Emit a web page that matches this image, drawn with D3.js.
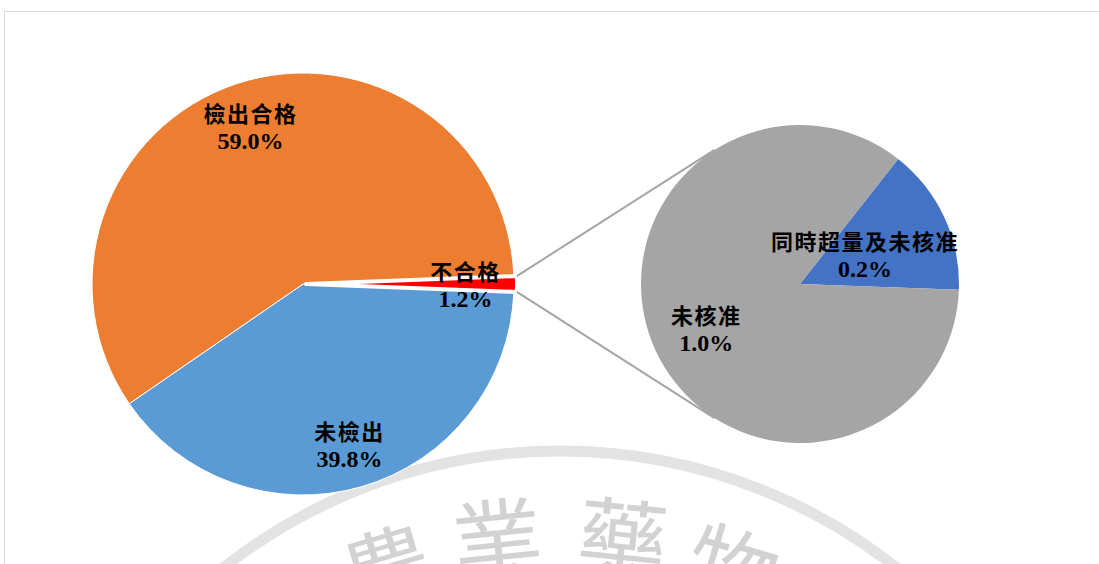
<!DOCTYPE html>
<html>
    <head>
        <meta charset="UTF-8"/>
        <style>
            body { margin: 0; background: #fff; }
        </style>
    </head>
    <body>
        <script src="https://d3js.org/d3.v7.min.js" type="text/javascript"></script>
        <script>
            // main pie: share of samples
            const mainCats = ["不合格", "未檢出", "檢出合格"];
            const mainVals = [1.2, 39.8, 59.0];
            const mainColors = ["#FF0000", "#5B9BD5", "#ED7D31"];
            // second pie: breakdown of 不合格
            const subCats = ["同時超量及未核准", "未核准"];
            const subVals = [0.18, 1.02];
            const subColors = ["#4472C4", "#A5A5A5"];

            let width = 1099;
            let height = 564;
            let svg = d3.select("body")
                .append("svg")
                .attr("width", width)
                .attr("height", height);

            // frame (only top/left edges visible)
            svg.append("path")
                .attr("d", "M4.5,564 L4.5,11.5 L1099,11.5")
                .attr("fill", "none")
                .attr("stroke", "#D9D9D9")
                .attr("stroke-width", 1);

            // watermark seal
            let wm = svg.append("g");
            wm.append("circle")
                .attr("cx", 560)
                .attr("cy", 994)
                .attr("r", 543)
                .attr("fill", "none")
                .attr("stroke", "#E3E3E3")
                .attr("stroke-width", 11);
            let wmChars = ["農", "業", "藥", "物"];
            let wmAngles = [-22, -7.8, 7.8, 22];
            wm.selectAll("text")
                .data(wmChars)
                .enter()
                .append("text")
                .attr("transform", function(d, i) {
                    let a = wmAngles[i] * Math.PI / 180;
                    let x = 560 + 463 * Math.sin(a);
                    let y = 994 - 463 * Math.cos(a);
                    return "translate(" + x + "," + y + ") rotate(" + (wmAngles[i] * 0.75) + ")";
                })
                .attr("text-anchor", "middle")
                .attr("dominant-baseline", "central")
                .attr("font-family", "'Noto Sans CJK TC'")
                .attr("font-size", 90)
                .attr("fill", "#D2D2D2")
                .text(function(d) { return d; });

            let fmt = d3.format(".1%");
            let cjkFont = "'Noto Sans CJK TC', sans-serif";
            let numFont = "'Liberation Serif', 'Times New Roman', serif";

            // main pie
            let cx = 303, cy = 284, R = 211;
            let total = d3.sum(mainVals);
            let redSpan = mainVals[0] / total * 2 * Math.PI;
            let start = Math.PI / 2 - redSpan / 2;
            let pie = d3.pie().sort(null).value(function(d) { return d; })
                .startAngle(start).endAngle(start + 2 * Math.PI);
            let mainArcs = pie(mainVals);
            let arc = d3.arc().innerRadius(0).outerRadius(R);
            let explode = 3;

            let gMain = svg.append("g").attr("transform", "translate(" + cx + "," + cy + ")");
            // draw big slices first, red last so its white border sits on top
            let order = [1, 2, 0];
            gMain.selectAll("path")
                .data(order.map(function(i) { return mainArcs[i]; }))
                .enter()
                .append("path")
                .attr("d", arc)
                .attr("fill", function(d) { return mainColors[d.index]; })
                .attr("stroke", "#fff")
                .attr("stroke-width", function(d) { return d.index === 0 ? 4 : 1; })
                .attr("stroke-linejoin", "round")
                .attr("transform", function(d) {
                    return d.index === 0 ? "translate(" + explode + ",0)" : null;
                });

            let mainK = [0.77, 0.79, 0.79];
            mainArcs.forEach(function(d, i) {
                let la = d3.arc().innerRadius(R * mainK[i]).outerRadius(R * mainK[i]);
                let c = la.centroid(d);
                let g = gMain.append("g").attr("transform", "translate(" + c[0] + "," + c[1] + ")");
                g.append("text")
                    .attr("y", -14)
                    .attr("text-anchor", "middle")
                    .attr("dominant-baseline", "central")
                    .attr("font-family", cjkFont)
                    .attr("font-weight", 700)
                    .attr("font-size", 22)
                    .attr("letter-spacing", 1.5)
                    .attr("fill", "#000")
                    .text(mainCats[i]);
                g.append("text")
                    .attr("y", 15)
                    .attr("text-anchor", "middle")
                    .attr("dominant-baseline", "central")
                    .attr("font-family", numFont)
                    .attr("font-weight", 700)
                    .attr("font-size", 24)
                    .attr("fill", "#000")
                    .text(fmt(mainVals[i] / 100));
            });

            // second pie
            let sx = 800, sy = 284, r2 = 159;
            let subStart = 38.1 * Math.PI / 180;
            let pie2 = d3.pie().sort(null).value(function(d) { return d; })
                .startAngle(subStart).endAngle(subStart + 2 * Math.PI);
            let subArcs = pie2(subVals);
            let arc2 = d3.arc().innerRadius(0).outerRadius(r2);

            // connector lines: tangents from red slice corners to the second pie
            let red = mainArcs[0];
            function corner(a) {
                return [cx + explode + R * Math.sin(a), cy - R * Math.cos(a)];
            }
            function tangent(p, sign) {
                let dx = p[0] - sx, dy = p[1] - sy;
                let d = Math.sqrt(dx * dx + dy * dy);
                let base = Math.atan2(dy, dx);
                let t = Math.acos(r2 / d);
                let a = base + sign * t;
                return [sx + r2 * Math.cos(a), sy + r2 * Math.sin(a)];
            }
            let pTop = corner(red.startAngle);
            let pBot = corner(red.endAngle);
            let lines = [[pTop, tangent(pTop, 1)], [pBot, tangent(pBot, -1)]];
            svg.selectAll("line.conn")
                .data(lines)
                .enter()
                .append("line")
                .attr("class", "conn")
                .attr("x1", function(d) { return d[0][0]; })
                .attr("y1", function(d) { return d[0][1]; })
                .attr("x2", function(d) { return d[1][0]; })
                .attr("y2", function(d) { return d[1][1]; })
                .attr("stroke", "#A5A5A5")
                .attr("stroke-width", 2);

            let gSub = svg.append("g").attr("transform", "translate(" + sx + "," + sy + ")");
            gSub.selectAll("path")
                .data(subArcs)
                .enter()
                .append("path")
                .attr("d", arc2)
                .attr("fill", function(d) { return subColors[d.index]; });

            let subK = [0.45, 0.65];
            subArcs.forEach(function(d, i) {
                let la = d3.arc().innerRadius(r2 * subK[i]).outerRadius(r2 * subK[i]);
                let c = la.centroid(d);
                let g = gSub.append("g").attr("transform", "translate(" + c[0] + "," + c[1] + ")");
                g.append("text")
                    .attr("y", -14)
                    .attr("text-anchor", "middle")
                    .attr("dominant-baseline", "central")
                    .attr("font-family", cjkFont)
                    .attr("font-weight", 700)
                    .attr("font-size", 22)
                    .attr("letter-spacing", 1.5)
                    .attr("fill", "#000")
                    .text(subCats[i]);
                g.append("text")
                    .attr("y", 15)
                    .attr("text-anchor", "middle")
                    .attr("dominant-baseline", "central")
                    .attr("font-family", numFont)
                    .attr("font-weight", 700)
                    .attr("font-size", 24)
                    .attr("fill", "#000")
                    .text(fmt(subVals[i] / 100));
            });
        </script>
    </body>
</html>
